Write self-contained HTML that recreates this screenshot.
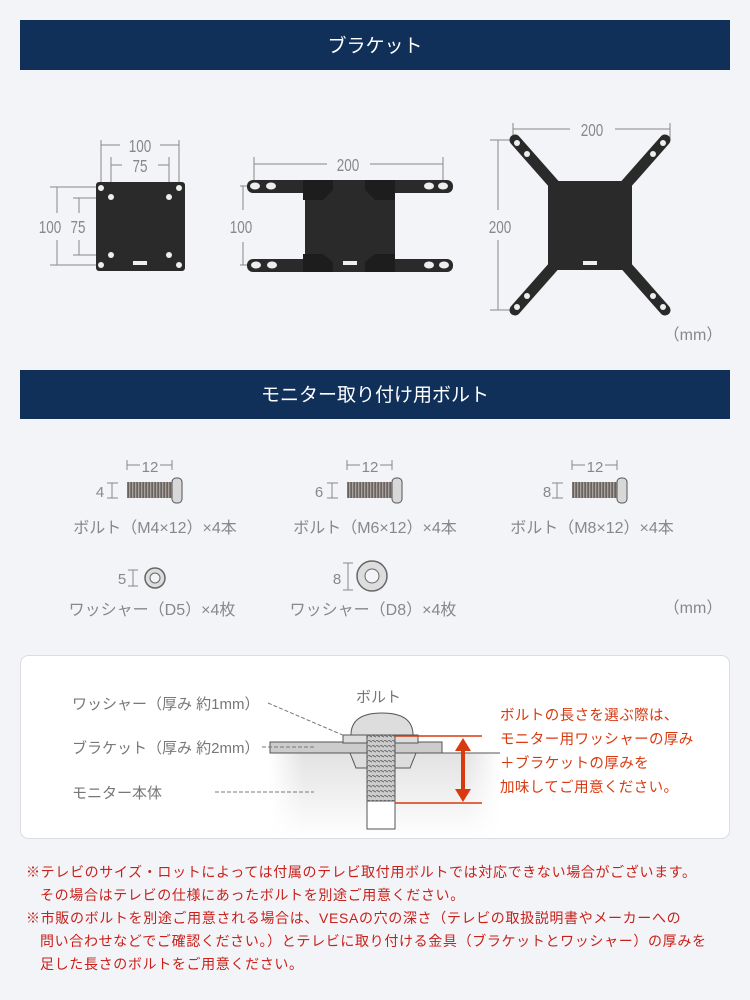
<!DOCTYPE html>
<html><head><meta charset="utf-8"><style>
body{margin:0;background:#f3f4f8;}
svg{display:block;font-family:"Liberation Sans","Noto Sans CJK JP",sans-serif;}
</style></head><body>
<svg width="750" height="1000" viewBox="0 0 750 1000">
<defs>
<pattern id="thr" width="3" height="4" patternUnits="userSpaceOnUse"><rect width="3" height="4" fill="#6a6460"/><rect width="1.3" height="4" fill="#a9a29c"/></pattern>
<linearGradient id="mon" x1="0" y1="0" x2="0" y2="1"><stop offset="0" stop-color="#e2e2e2"/><stop offset="1" stop-color="#ffffff"/></linearGradient>
<linearGradient id="monx" x1="0" y1="0" x2="1" y2="0"><stop offset="0" stop-color="#fff" stop-opacity="1"/><stop offset="0.15" stop-color="#fff" stop-opacity="0"/><stop offset="0.85" stop-color="#fff" stop-opacity="0"/><stop offset="1" stop-color="#fff" stop-opacity="1"/></linearGradient>
<pattern id="thr2" width="4" height="5" patternUnits="userSpaceOnUse"><rect width="4" height="5" fill="#ccc"/><path d="M0 0 L4 2" stroke="#666" stroke-width="1"/></pattern>
</defs>
<rect width="750" height="1000" fill="#f3f4f8"/>
<rect x="20" y="20" width="710" height="50" fill="#10305a"/>
<text x="375" y="52" font-size="19" fill="#fff" text-anchor="middle">ブラケット</text>
<rect x="20" y="370" width="710" height="49" fill="#10305a"/>
<text x="375" y="401" font-size="19" fill="#fff" text-anchor="middle">モニター取り付け用ボルト</text>

<g stroke="#888" stroke-width="1" fill="none">
<path d="M101 140V182M179 140V182M101 145H120M160 145H179M111 157V195M169 157V195M111 165H122M158 165H169"/>
<path d="M50 187H100M50 265H100M57 187V213M57 240V265M73 198H110M73 255H110M79 198V213M79 240V255"/>
<path d="M254 157V185M443 157V185M254 164H327M370 164H443"/>
<path d="M240 186H262M240 265H262M243 186V210M243 242V265"/>
<path d="M513 123V140M670 123V140M513 129H570M615 129H670"/>
<path d="M490 140H513M490 310H513M498 140V210M498 240V310"/>
</g>
<g font-size="18" fill="#888" text-anchor="middle">
<text x="140" y="152" transform="translate(140 0) scale(0.75 1) translate(-140 0)">100</text>
<text x="140" y="172" transform="translate(140 0) scale(0.75 1) translate(-140 0)">75</text>
<text x="50" y="233" transform="translate(50 0) scale(0.75 1) translate(-50 0)">100</text>
<text x="78" y="233" transform="translate(78 0) scale(0.75 1) translate(-78 0)">75</text>
<text x="348" y="171" transform="translate(348 0) scale(0.75 1) translate(-348 0)">200</text>
<text x="241" y="233" transform="translate(241 0) scale(0.75 1) translate(-241 0)">100</text>
<text x="592" y="136" transform="translate(592 0) scale(0.75 1) translate(-592 0)">200</text>
<text x="500" y="233" transform="translate(500 0) scale(0.75 1) translate(-500 0)">200</text>
</g>
<g font-size="16" fill="#888" text-anchor="middle">
<text x="693" y="340">（mm）</text><text x="693" y="613">（mm）</text>
</g>
<rect x="96" y="182" width="89" height="89" rx="3" fill="#2a2a2a"/>
<g fill="#eee"><circle cx="101" cy="188" r="3"/><circle cx="179" cy="188" r="3"/><circle cx="111" cy="197" r="3"/><circle cx="169" cy="197" r="3"/><circle cx="111" cy="255" r="3"/><circle cx="169" cy="255" r="3"/><circle cx="101" cy="265" r="3"/><circle cx="179" cy="265" r="3"/><rect x="133" y="261" width="14" height="4"/></g>
<g fill="#2a2a2a">
<rect x="305" y="182" width="90" height="89"/>
<rect x="247" y="180" width="206" height="13" rx="6"/>
<rect x="247" y="259" width="206" height="13" rx="6"/>
<path d="M303 180h30v10l-10 10h-20z M395 180h-30v10l10 10h20z M303 272h30v-10l-10-8h-20z M395 272h-30v-10l10-8h20z" fill="#1d1d1d"/>
</g>
<g fill="#eee"><ellipse cx="255" cy="186" rx="5" ry="3.5"/><ellipse cx="271" cy="186" rx="5" ry="3.5"/><ellipse cx="429" cy="186" rx="5" ry="3.5"/><ellipse cx="443" cy="186" rx="5" ry="3.5"/><ellipse cx="256" cy="265" rx="5" ry="3.5"/><ellipse cx="272" cy="265" rx="5" ry="3.5"/><ellipse cx="429" cy="265" rx="5" ry="3.5"/><ellipse cx="444" cy="265" rx="5" ry="3.5"/><rect x="343" y="261" width="14" height="4"/></g>
<g stroke="#2a2a2a" stroke-width="11" stroke-linecap="round" fill="none">
<path d="M515 140L590 225L665 140M515 310L590 225L665 310"/>
</g>
<rect x="548" y="181" width="84" height="89" fill="#2a2a2a"/>
<g fill="#eee"><circle cx="517" cy="143" r="3"/><circle cx="527" cy="154" r="3"/><circle cx="663" cy="143" r="3"/><circle cx="653" cy="154" r="3"/><circle cx="517" cy="307" r="3"/><circle cx="527" cy="296" r="3"/><circle cx="663" cy="307" r="3"/><circle cx="653" cy="296" r="3"/><rect x="583" y="261" width="14" height="4"/></g>

<g id="b1">
<path d="M127 460V470M172 460V470M127 465H140M160 465H172" stroke="#888" fill="none"/>
<path d="M107 483H118M107 498H118M112 483V498" stroke="#888" fill="none"/>
<rect x="127" y="482" width="45" height="16" fill="url(#thr)"/>
<rect x="172" y="478" width="10" height="25" rx="4" fill="#d8d8d8" stroke="#555"/>
</g>
<text x="150" y="472" font-size="15" fill="#888" text-anchor="middle">12</text>
<text x="100" y="497" font-size="15" fill="#888" text-anchor="middle">4</text>
<use href="#b1" x="220"/>
<text x="370" y="472" font-size="15" fill="#888" text-anchor="middle">12</text>
<text x="319" y="497" font-size="15" fill="#888" text-anchor="middle">6</text>
<use href="#b1" x="445"/>
<text x="595" y="472" font-size="15" fill="#888" text-anchor="middle">12</text>
<text x="547" y="497" font-size="15" fill="#888" text-anchor="middle">8</text>
<g font-size="16" fill="#888" text-anchor="middle">
<text x="155" y="533">ボルト（M4×12）×4本</text>
<text x="375" y="533">ボルト（M6×12）×4本</text>
<text x="592" y="533">ボルト（M8×12）×4本</text>
<text x="152" y="615">ワッシャー（D5）×4枚</text>
<text x="373" y="615">ワッシャー（D8）×4枚</text>
<text x="122" y="584" font-size="15">5</text>
<text x="337" y="584" font-size="15">8</text>
</g>
<circle cx="155" cy="578" r="10" fill="#ddd" stroke="#666" stroke-width="1.5"/><circle cx="155" cy="578" r="5" fill="#f3f4f8" stroke="#666"/>
<path d="M128 570H138M128 586H138M133 570V586" stroke="#888" fill="none"/>
<circle cx="372" cy="576" r="15" fill="#ddd" stroke="#666" stroke-width="1.5"/><circle cx="372" cy="576" r="7" fill="#f3f4f8" stroke="#666"/>
<path d="M343 563H353M343 590H353M348 563V590" stroke="#888" fill="none"/>

<rect x="20.5" y="655.5" width="709" height="183" rx="8" fill="#fff" stroke="#dcdde2"/>
<rect x="270" y="753" width="230" height="85" fill="url(#mon)"/>
<rect x="270" y="753" width="230" height="85" fill="url(#monx)"/>
<path d="M270 753H500" stroke="#555"/>
<rect x="270" y="742" width="172" height="11" fill="#ccc" stroke="#555"/>
<rect x="343" y="735" width="75" height="8" fill="#ddd" stroke="#555"/>
<path d="M350 753L356 768H410L416 753Z" fill="#ddd" stroke="#555"/>
<path d="M351 735Q351 713 382 713Q413 713 413 735Z" fill="#ddd" stroke="#555"/>
<rect x="367" y="735" width="28" height="66" fill="url(#thr2)" stroke="#555"/>
<rect x="367" y="801" width="28" height="28" fill="#fff" stroke="#555"/>
<path d="M395 736H482M395 803H482" stroke="#d83a10" stroke-width="1.5"/>
<path d="M463 748V792" stroke="#d83a10" stroke-width="4"/>
<path d="M455 751L463 738L471 751Z M455 789L463 802L471 789Z" fill="#d83a10"/>
<g stroke="#777" stroke-dasharray="4 2" fill="none"><path d="M268 703L345 736M262 747H314M215 792H314"/></g>
<g font-size="15" fill="#777">
<text x="72" y="709">ワッシャー（厚み 約1mm）</text>
<text x="72" y="753">ブラケット（厚み 約2mm）</text>
<text x="72" y="798">モニター本体</text>
<text x="356" y="702">ボルト</text>
</g>
<g font-size="14.5" fill="#d83a10" letter-spacing="0.4">
<text x="500" y="720">ボルトの長さを選ぶ際は、</text>
<text x="500" y="744">モニター用ワッシャーの厚み</text>
<text x="500" y="768">＋ブラケットの厚みを</text>
<text x="500" y="792">加味してご用意ください。</text>
</g>
<g font-size="14" fill="#c8201a" letter-spacing="0.65">
<text x="26" y="877">※テレビのサイズ・ロットによっては付属のテレビ取付用ボルトでは対応できない場合がございます。</text>
<text x="40" y="900">その場合はテレビの仕様にあったボルトを別途ご用意ください。</text>
<text x="26" y="923">※市販のボルトを別途ご用意される場合は、VESAの穴の深さ（テレビの取扱説明書やメーカーへの</text>
<text x="40" y="946">問い合わせなどでご確認ください。）とテレビに取り付ける金具（ブラケットとワッシャー）の厚みを</text>
<text x="40" y="969">足した長さのボルトをご用意ください。</text>
</g>
</svg>
</body></html>
